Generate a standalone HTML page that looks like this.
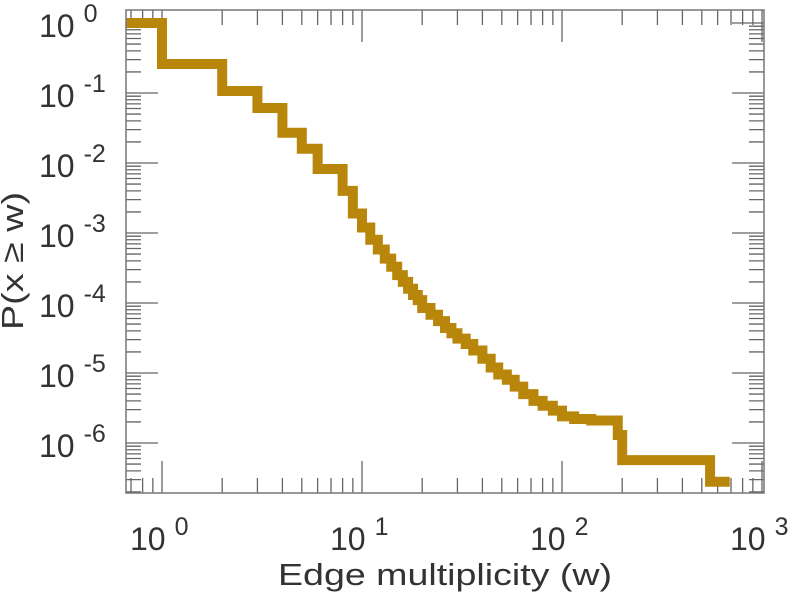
<!DOCTYPE html>
<html><head><meta charset="utf-8"><style>
html,body{margin:0;padding:0;background:#fff;}
svg{display:block;font-family:"Liberation Sans",sans-serif;}
</style></head><body>
<svg id="chart" width="794" height="600" viewBox="0 0 794 600" xmlns="http://www.w3.org/2000/svg">
<g id="ticks"></g>
<g id="series"></g>
<rect x="126" y="10" width="638" height="483" fill="none" stroke="#777" stroke-width="1.5"/>
<g id="labels" fill="#333"></g>
<text x="278" y="585" font-size="31" fill="#333" textLength="334" lengthAdjust="spacingAndGlyphs">Edge multiplicity (w)</text>
<text transform="translate(23,330) rotate(-90)" font-size="31" fill="#333" textLength="138" lengthAdjust="spacingAndGlyphs">P(x ≥ w)</text>
</svg>
<script>
const breakW = [1,2,3,4,5,6,8,9,10,11,12,13,14,15,16,17,18,19,20,22,24,26,28,30,33,36,40,44,48,53,58,64,72,80,90,100,115,140,190,200,550,690];
const levelP = [1,0.26,0.107,0.061,0.027,0.016,0.0082,0.004,0.0019,1.2e-3,8.0e-4,5.8e-4,4.3e-4,3.3e-4,2.5e-4,2.0e-4,1.6e-4,1.3e-4,1.1e-4,8.5e-5,6.8e-5,5.5e-5,4.4e-5,3.7e-5,3.1e-5,2.6e-5,2.1e-5,1.6e-5,1.2e-5,9.5e-6,8.0e-6,6.4e-6,5.0e-6,4.0e-6,3.4e-6,2.9e-6,2.4e-6,2.2e-6,2.1e-6,1.3e-6,5.7e-7,2.8e-7];
const xTickExp = [0,1,2,3];
const yTickExp = [0,-1,-2,-3,-4,-5,-6];

const X0=162, XD=200, Y0=23, YD=70, L=126, R=764, T=10, B=493;
const sx = w => X0 + XD*Math.log10(w);
const sy = p => Y0 - YD*Math.log10(p);
const NS='http://www.w3.org/2000/svg';
function mk(tag, attrs, parent){const e=document.createElementNS(NS,tag);for(const k in attrs)e.setAttribute(k,attrs[k]);parent.appendChild(e);return e;}

const ticks=document.getElementById('ticks');
let d='';
for(let e=-1;e<=3;e++){
  for(let k=1;k<=9;k++){
    const x=X0+XD*(e+Math.log10(k));
    if(x<L||x>R) continue;
    const len = k===1?32:15;
    d+=`M${x},${B}v${-len}M${x},${T}v${len}`;
  }
}
for(let e=1;e>=-7;e--){
  const ym=Y0-YD*e;
  if(ym>=T&&ym<=B) d+=`M${L},${ym}h32M${R},${ym}h-32`;
  for(let k=2;k<=9;k++){
    const y=ym+YD*(1-Math.log10(k));
    if(y<T||y>B) continue;
    d+=`M${L},${y}h15M${R},${y}h-15`;
  }
}
const tp=mk('path',{d:d,stroke:'#666','stroke-width':1.3,fill:'none'},ticks);



let pd=`M${L},${sy(levelP[0])}`;
for(let i=0;i<breakW.length;i++){
  pd+=`H${sx(breakW[i])}`;
  if(i+1<levelP.length) pd+=`V${sy(levelP[i+1])}`;
}
const sp=mk('path',{d:pd,stroke:'#b8860b','stroke-width':10,fill:'none','stroke-linejoin':'miter','stroke-linecap':'butt'},document.getElementById('series'));



const labels=document.getElementById('labels');
xTickExp.forEach(e=>{
  const x=sx(Math.pow(10,e));
  const t=mk('text',{x:x-32,y:550,'font-size':32},labels);
  
  
  t.textContent='10';
  const s=mk('tspan',{dx:9,dy:-15,'font-size':25},t);
  s.textContent=String(e);
});
yTickExp.forEach(e=>{
  const y=sy(Math.pow(10,e));
  const t=mk('text',{x:39,y:y+14,'font-size':32},labels);
  
  
  t.textContent='10';
  const s=mk('tspan',{dx:9,dy:-15,'font-size':25},t);
  s.textContent=String(e);
});
</script>
</body></html>
